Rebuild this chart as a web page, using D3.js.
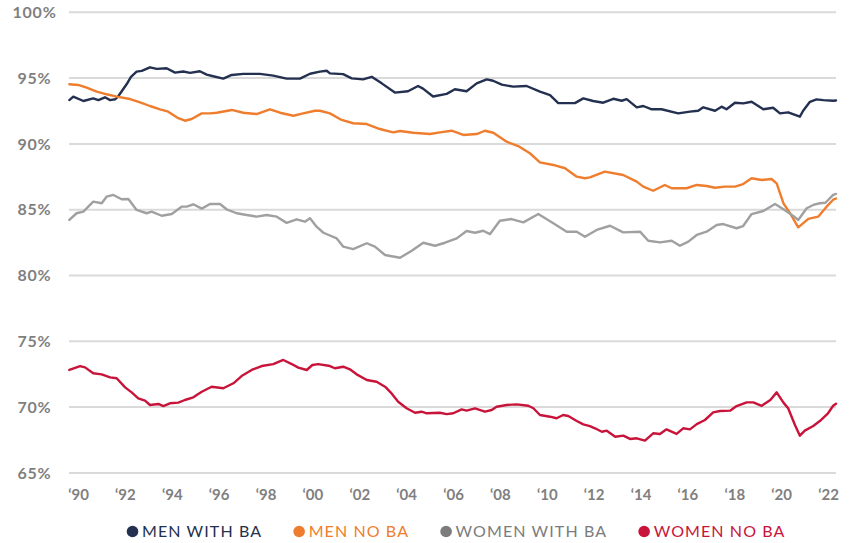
<!DOCTYPE html>
<html>
<head>
<meta charset="utf-8">
<script src="https://cdn.jsdelivr.net/npm/d3@7"></script>
<style>
  body { margin: 0; background: #fff; }
  svg { display: block; }
</style>
</head>
<body>
<div id="chart"></div>
<script>
// chart size
var svgWidth = 850;
var svgHeight = 543;

// series readings: [year, percent]
var menWithBA = [
  [1989.63, 93.33], [1989.80, 93.59], [1990.23, 93.26], [1990.65, 93.46], [1990.87, 93.33],
  [1991.15, 93.54], [1991.37, 93.33], [1991.58, 93.39], [1991.71, 93.6], [1992.08, 94.55],
  [1992.26, 95.1], [1992.50, 95.49], [1992.72, 95.55], [1993.07, 95.82], [1993.36, 95.7],
  [1993.78, 95.75], [1994.14, 95.42], [1994.49, 95.5], [1994.78, 95.4], [1995.20, 95.52],
  [1995.49, 95.27], [1995.77, 95.14], [1996.20, 94.96], [1996.56, 95.24], [1997.05, 95.32],
  [1997.76, 95.32], [1998.33, 95.19], [1998.90, 94.96], [1999.47, 94.96], [1999.90, 95.33],
  [2000.32, 95.49], [2000.61, 95.56], [2000.75, 95.36], [2001.31, 95.3], [2001.68, 94.98],
  [2002.16, 94.9], [2002.53, 95.1], [2002.96, 94.6], [2003.52, 93.9], [2004.08, 94.0],
  [2004.51, 94.4], [2004.72, 94.2], [2005.15, 93.6], [2005.73, 93.8], [2006.08, 94.15],
  [2006.58, 94.0], [2007.01, 94.6], [2007.44, 94.9], [2007.71, 94.8], [2008.08, 94.5],
  [2008.57, 94.35], [2009.14, 94.4], [2009.71, 93.97], [2010.14, 93.7], [2010.49, 93.1],
  [2010.85, 93.1], [2011.20, 93.1], [2011.56, 93.46], [2011.98, 93.26], [2012.41, 93.13],
  [2012.84, 93.43], [2013.20, 93.28], [2013.41, 93.4], [2013.84, 92.78], [2014.12, 92.88],
  [2014.48, 92.63], [2014.90, 92.63], [2015.61, 92.32], [2016.11, 92.45], [2016.46, 92.52],
  [2016.68, 92.78], [2017.18, 92.52], [2017.46, 92.83], [2017.67, 92.63], [2018.03, 93.13],
  [2018.38, 93.08], [2018.74, 93.2], [2019.24, 92.63], [2019.66, 92.75], [2019.95, 92.32],
  [2020.30, 92.4], [2020.80, 92.07], [2020.94, 92.52], [2021.23, 93.2], [2021.51, 93.38],
  [2021.80, 93.33], [2022.22, 93.28], [2022.34, 93.3]
];

var menNoBA = [
  [1989.63, 94.53], [1990.01, 94.48], [1990.37, 94.27], [1990.80, 93.97], [1991.22, 93.77],
  [1991.65, 93.59], [1992.22, 93.41], [1992.65, 93.16], [1993.07, 92.88], [1993.50, 92.63],
  [1993.85, 92.45], [1994.28, 91.95], [1994.56, 91.76], [1994.85, 91.89], [1995.28, 92.32],
  [1995.63, 92.32], [1995.92, 92.37], [1996.56, 92.58], [1997.05, 92.37], [1997.62, 92.27],
  [1998.19, 92.63], [1998.62, 92.37], [1999.19, 92.14], [1999.61, 92.32], [2000.11, 92.52],
  [2000.32, 92.52], [2000.75, 92.32], [2001.25, 91.82], [2001.74, 91.57], [2002.32, 91.51],
  [2002.88, 91.13], [2003.45, 90.88], [2003.74, 90.98], [2004.30, 90.85], [2005.02, 90.75],
  [2005.44, 90.88], [2005.94, 91.0], [2006.44, 90.68], [2007.01, 90.75], [2007.36, 91.0],
  [2007.72, 90.85], [2008.29, 90.17], [2008.78, 89.84], [2009.28, 89.29], [2009.71, 88.6],
  [2010.28, 88.4], [2010.78, 88.15], [2011.28, 87.51], [2011.63, 87.39], [2011.84, 87.46],
  [2012.48, 87.89], [2013.26, 87.64], [2013.84, 87.13], [2014.12, 86.75], [2014.54, 86.44],
  [2015.04, 86.88], [2015.33, 86.63], [2015.97, 86.63], [2016.40, 86.88], [2016.82, 86.8],
  [2017.18, 86.67], [2017.60, 86.75], [2018.03, 86.75], [2018.38, 86.95], [2018.74, 87.39],
  [2019.17, 87.26], [2019.59, 87.33], [2019.81, 87.0], [2020.10, 85.48], [2020.38, 84.73],
  [2020.73, 83.66], [2021.16, 84.3], [2021.58, 84.47], [2021.94, 85.23], [2022.22, 85.76],
  [2022.34, 85.85]
];

var womenWithBA = [
  [1989.63, 84.22], [1989.94, 84.73], [1990.23, 84.85], [1990.65, 85.61], [1991.01, 85.49],
  [1991.22, 85.99], [1991.51, 86.12], [1991.86, 85.79], [1992.15, 85.81], [1992.50, 84.98],
  [1992.93, 84.73], [1993.14, 84.85], [1993.57, 84.54], [1994.00, 84.67], [1994.42, 85.23],
  [1994.64, 85.23], [1994.92, 85.41], [1995.28, 85.08], [1995.63, 85.43], [1996.06, 85.43],
  [1996.34, 85.03], [1996.77, 84.73], [1997.20, 84.6], [1997.62, 84.47], [1998.05, 84.6],
  [1998.48, 84.47], [1998.90, 84.0], [1999.33, 84.27], [1999.68, 84.09], [1999.90, 84.35],
  [2000.18, 83.71], [2000.47, 83.25], [2001.04, 82.82], [2001.32, 82.19], [2001.74, 82.01],
  [2002.32, 82.45], [2002.67, 82.19], [2003.10, 81.56], [2003.74, 81.35], [2004.24, 81.88],
  [2004.73, 82.49], [2005.23, 82.26], [2005.66, 82.49], [2006.16, 82.82], [2006.58, 83.38],
  [2006.94, 83.25], [2007.29, 83.4], [2007.58, 83.15], [2008.00, 84.16], [2008.50, 84.29],
  [2009.00, 84.04], [2009.64, 84.67], [2010.28, 83.97], [2010.85, 83.33], [2011.28, 83.33],
  [2011.63, 82.95], [2012.13, 83.46], [2012.70, 83.78], [2013.26, 83.28], [2013.98, 83.33],
  [2014.33, 82.64], [2014.83, 82.52], [2015.33, 82.64], [2015.68, 82.26], [2016.04, 82.57],
  [2016.40, 83.08], [2016.82, 83.33], [2017.25, 83.84], [2017.53, 83.91], [2018.10, 83.59],
  [2018.38, 83.76], [2018.74, 84.67], [2019.24, 84.9], [2019.74, 85.43], [2020.10, 85.03],
  [2020.52, 84.52], [2020.73, 84.22], [2021.09, 85.11], [2021.37, 85.36], [2021.65, 85.49],
  [2021.89, 85.53], [2022.22, 86.12], [2022.34, 86.2]
];

var womenNoBA = [
  [1989.63, 72.82], [1990.09, 73.12], [1990.30, 73.02], [1990.65, 72.57], [1991.01, 72.49],
  [1991.37, 72.26], [1991.65, 72.19], [1992.01, 71.5], [1992.29, 71.12], [1992.57, 70.67],
  [1992.86, 70.49], [1993.07, 70.16], [1993.43, 70.24], [1993.64, 70.08], [1993.92, 70.29],
  [1994.28, 70.34], [1994.56, 70.54], [1994.92, 70.74], [1995.28, 71.17], [1995.70, 71.55],
  [1996.20, 71.43], [1996.63, 71.81], [1996.98, 72.36], [1997.41, 72.82], [1997.84, 73.12],
  [1998.33, 73.27], [1998.76, 73.58], [1999.12, 73.27], [1999.40, 73.0], [1999.76, 72.82],
  [2000.00, 73.2], [2000.25, 73.27], [2000.75, 73.12], [2000.96, 72.95], [2001.32, 73.07],
  [2001.60, 72.87], [2001.89, 72.49], [2002.32, 72.06], [2002.74, 71.93], [2003.10, 71.55],
  [2003.38, 71.04], [2003.66, 70.41], [2004.02, 69.91], [2004.38, 69.57], [2004.66, 69.65],
  [2004.88, 69.53], [2005.44, 69.57], [2005.73, 69.47], [2006.01, 69.53], [2006.37, 69.83],
  [2006.58, 69.73], [2006.94, 69.91], [2007.36, 69.65], [2007.65, 69.78], [2007.86, 70.03],
  [2008.29, 70.16], [2008.72, 70.21], [2009.21, 70.1], [2009.43, 69.91], [2009.71, 69.4],
  [2010.14, 69.27], [2010.42, 69.15], [2010.70, 69.4], [2010.92, 69.32], [2011.28, 68.94],
  [2011.56, 68.69], [2011.84, 68.56], [2012.06, 68.39], [2012.35, 68.13], [2012.56, 68.21],
  [2012.92, 67.75], [2013.27, 67.83], [2013.55, 67.58], [2013.84, 67.63], [2014.19, 67.45],
  [2014.54, 68.01], [2014.83, 67.96], [2015.11, 68.31], [2015.54, 67.96], [2015.82, 68.39],
  [2016.11, 68.31], [2016.40, 68.71], [2016.75, 69.02], [2017.10, 69.6], [2017.39, 69.7],
  [2017.82, 69.73], [2018.10, 70.08], [2018.53, 70.36], [2018.81, 70.36], [2019.17, 70.1],
  [2019.54, 70.54], [2019.81, 71.12], [2020.10, 70.34], [2020.30, 69.91], [2020.59, 68.64],
  [2020.80, 67.83], [2021.01, 68.21], [2021.37, 68.56], [2021.65, 68.94], [2022.00, 69.53],
  [2022.22, 70.1], [2022.34, 70.25]
];

var seriesNames = ['MEN WITH BA', 'MEN NO BA', 'WOMEN WITH BA', 'WOMEN NO BA'];
var seriesColors = ['#23304f', '#ef7d2e', '#a0a0a0', '#c8143a'];
var legendColors = ['#23304f', '#ef7d2e', '#7c7c7c', '#c8143a'];
var yTicks = [65, 70, 75, 80, 85, 90, 95, 100];
var xTickYears = d3.range(1990, 2023, 2);

var allSeries = [menWithBA, menNoBA, womenWithBA, womenNoBA];

// scales: year 1990 sits at x=78, 2022 at x=828
var xScale = d3.scaleLinear().domain([1990, 2022]).range([78, 828]);
var yScale = d3.scaleLinear().domain([65, 100]).range([472.9, 12.3]);
var gridLeft = 69;
var gridRight = 836;

var svg = d3.select('#chart').append('svg')
    .attr('width', svgWidth)
    .attr('height', svgHeight);

// gridlines
svg.append('g')
    .selectAll('line')
    .data(yTicks)
    .enter()
    .append('line')
    .attr('x1', gridLeft)
    .attr('x2', gridRight)
    .attr('y1', d => yScale(d))
    .attr('y2', d => yScale(d))
    .attr('stroke', '#dadada')
    .attr('stroke-width', 2);

// y labels, centred in the left margin
svg.append('g')
    .selectAll('text')
    .data(yTicks)
    .enter()
    .append('text')
    .attr('x', 34.5)
    .attr('y', d => yScale(d))
    .attr('dy', '0.36em')
    .attr('text-anchor', 'middle')
    .style('font-family', 'Lato, sans-serif')
    .style('font-weight', 'bold')
    .style('font-size', '16px')
    .style('letter-spacing', '0.8px')
    .style('fill', '#7f7f7f')
    .text(d => d + '%');

// x axis (labels only)
var xAxis = d3.axisBottom(xScale)
    .tickValues(xTickYears)
    .tickSize(0)
    .tickPadding(0)
    .tickFormat(d => '\u2018' + String(d).slice(2));

var xAxisG = svg.append('g')
    .attr('transform', 'translate(0, 489)')
    .call(xAxis);
xAxisG.select('.domain').remove();
xAxisG.selectAll('text')
    .style('font-family', 'Lato, sans-serif')
    .style('font-weight', 'bold')
    .style('font-size', '15px')
    .style('fill', '#808080');

// lines
var line = d3.line()
    .x(d => xScale(d[0]))
    .y(d => yScale(d[1]));

svg.append('g')
    .selectAll('path')
    .data(allSeries)
    .enter()
    .append('path')
    .attr('d', d => line(d))
    .attr('fill', 'none')
    .attr('stroke', (d, i) => seriesColors[i])
    .attr('stroke-width', 2.4)
    .attr('stroke-linejoin', 'round')
    .attr('stroke-linecap', 'round');

// legend, laid out from the measured text widths and centred
var dotGap = 9.5;
var legendG = svg.append('g').attr('transform', 'translate(0, 531.5)');
var items = legendG.selectAll('g')
    .data(seriesNames)
    .enter()
    .append('g');

items.append('circle')
    .attr('r', 5.8)
    .attr('cx', 0)
    .attr('cy', 0)
    .attr('fill', (d, i) => legendColors[i]);

items.append('text')
    .attr('x', dotGap)
    .attr('y', 0)
    .attr('dy', '0.36em')
    .style('font-family', 'Lato, sans-serif')
    .style('font-size', '16px')
    .style('letter-spacing', '1.1px')
    .style('fill', (d, i) => legendColors[i])
    .text(d => d);

var itemWidths = [];
items.each(function () {
    itemWidths.push(dotGap + d3.select(this).select('text').node().getComputedTextLength());
});
var gap = 37;
var totalWidth = d3.sum(itemWidths) + gap * (itemWidths.length - 1) + 6;
var cursor = 456 - totalWidth / 2 + 6;
items.attr('transform', (d, i) => {
    var pos = cursor;
    cursor += itemWidths[i] + gap;
    return `translate(${pos}, 0)`;
});
</script>
</body>
</html>
